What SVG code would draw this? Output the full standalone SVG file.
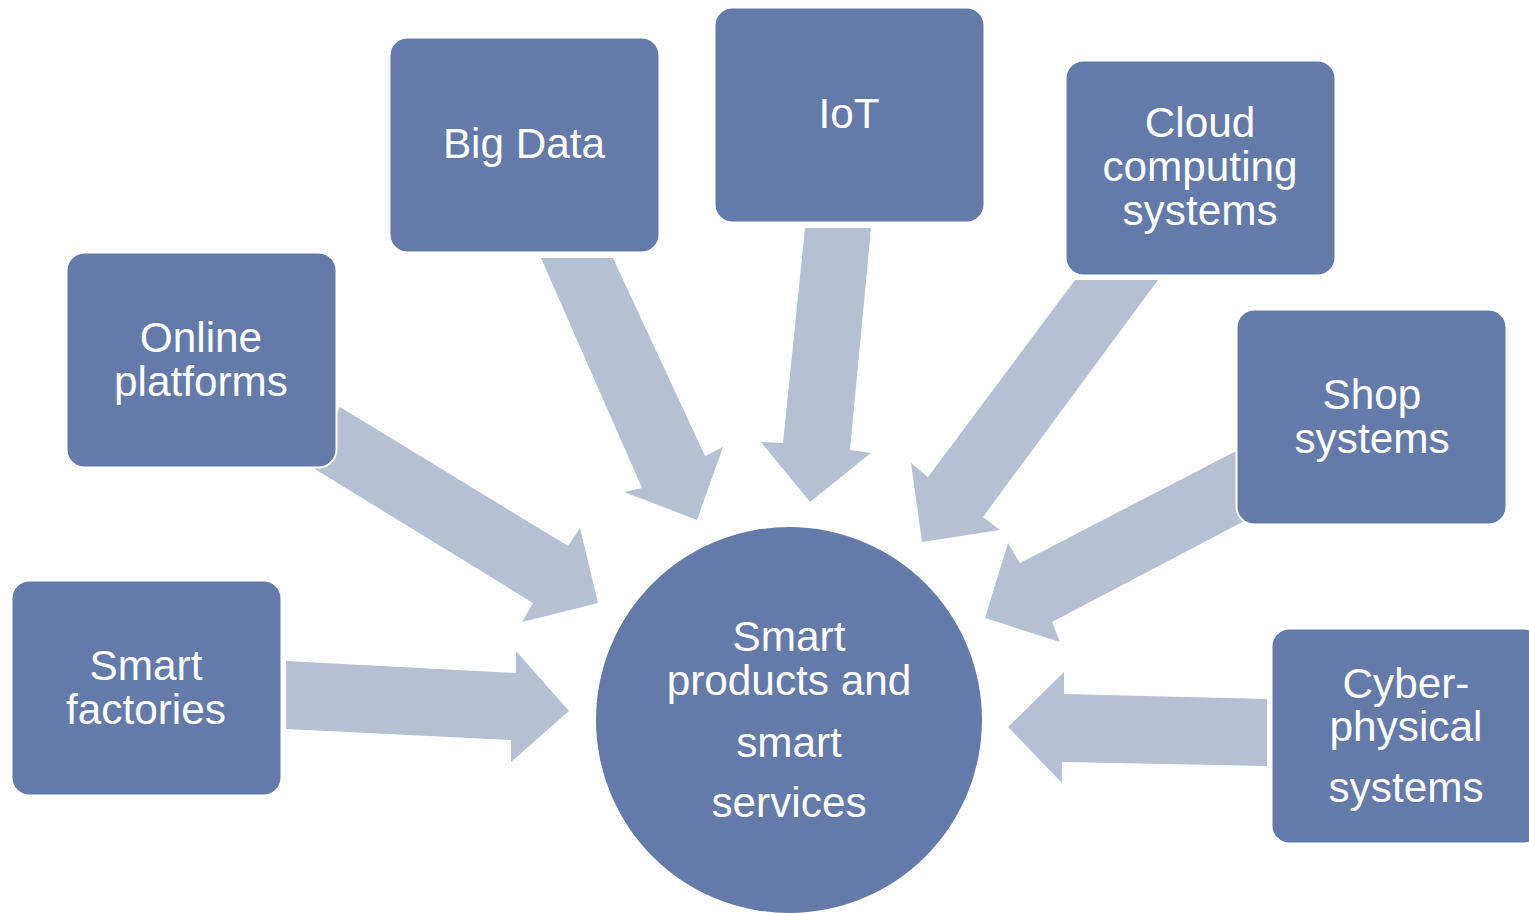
<svg xmlns="http://www.w3.org/2000/svg" width="1529" height="913" viewBox="0 0 1529 913">
  <style>
    .box { fill: #647aa8; stroke: #ffffff; stroke-width: 2; }
    .hub { fill: #647aa8; }
    .arrow { fill: #b7bfd3; }
    .label { fill: #ffffff; font-family: "Liberation Sans", Arial, sans-serif; font-size: 42.3px; text-anchor: middle; }
  </style>
  <rect width="1529" height="913" fill="#ffffff"/>

  <!-- block arrows pointing into the central circle -->
  <g id="connectors">
    <polygon class="arrow" points="286,661 516,673 516,651 569,711 511,762 511,740 286,729"/>
    <polygon class="arrow" points="340,407 568,546 580,528 598,603 522,622 533,603 310,466"/>
    <polygon class="arrow" points="541,258 613,258 705,456 723,447 697,520 624,492 642,488"/>
    <polygon class="arrow" points="805,228 871,228 850,450 871,453 810,502 761,442 783,443"/>
    <polygon class="arrow" points="1075,280 1158,280 983,517 1000,530 922,542 911,463 928,477"/>
    <polygon class="arrow" points="1240,449 1020,563 1008,543 985,618 1060,642 1052,622 1250,518"/>
    <polygon class="arrow" points="1267,699 1064,694 1064,672 1008,727 1062,783 1062,762 1267,766"/>
  </g>

  <g id="smart-factories">
    <rect class="box" x="11.5" y="580.5" width="270" height="215" rx="18"/>
    <text class="label" x="146" y="680">Smart</text>
    <text class="label" x="146" y="724">factories</text>
  </g>

  <g id="online-platforms">
    <rect class="box" x="66.5" y="252.5" width="270" height="215" rx="18"/>
    <text class="label" x="201" y="352">Online</text>
    <text class="label" x="201" y="396">platforms</text>
  </g>

  <g id="big-data">
    <rect class="box" x="389.5" y="37.5" width="270" height="215" rx="18"/>
    <text class="label" x="524" y="158">Big Data</text>
  </g>

  <g id="iot">
    <rect class="box" x="714.5" y="7.5" width="270" height="215" rx="18"/>
    <text class="label" x="849" y="128">IoT</text>
  </g>

  <g id="cloud-computing">
    <rect class="box" x="1065.5" y="60.5" width="270" height="215" rx="18"/>
    <text class="label" x="1200" y="137">Cloud</text>
    <text class="label" x="1200" y="181">computing</text>
    <text class="label" x="1200" y="225">systems</text>
  </g>

  <g id="shop-systems">
    <rect class="box" x="1236.5" y="309.5" width="270" height="215" rx="18"/>
    <text class="label" x="1372" y="409">Shop</text>
    <text class="label" x="1372" y="453">systems</text>
  </g>

  <g id="cyber-physical">
    <rect class="box" x="1271.5" y="628.5" width="270" height="215" rx="18"/>
    <text class="label" x="1406" y="698">Cyber-</text>
    <text class="label" x="1406" y="741">physical</text>
    <text class="label" x="1406" y="802">systems</text>
  </g>

  <g id="smart-products">
    <circle class="hub" cx="789" cy="720" r="193"/>
    <text class="label" x="789" y="651">Smart</text>
    <text class="label" x="789" y="695">products and</text>
    <text class="label" x="789" y="757">smart</text>
    <text class="label" x="789" y="817">services</text>
  </g>
</svg>
